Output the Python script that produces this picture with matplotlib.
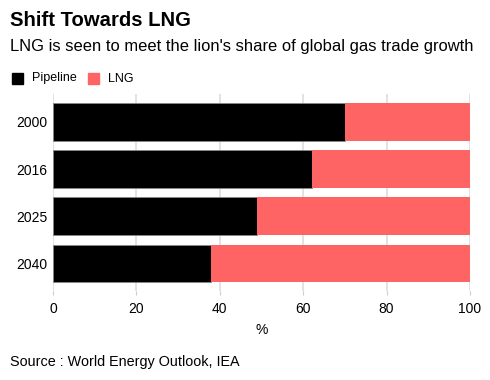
import matplotlib
matplotlib.use("Agg")
import matplotlib.pyplot as plt
from matplotlib.patches import Rectangle

plt.rcParams['font.family'] = ['Liberation Sans', 'DejaVu Sans']

years = ["2000", "2016", "2025", "2040"]
pipeline = [70, 62, 49, 38]
lng = [30, 38, 51, 62]
series_names = ["Pipeline", "LNG"]
colors = ["#000000", "#ff6464"]
xticks = [0, 20, 40, 60, 80, 100]

fig = plt.figure(figsize=(4.9, 3.8), dpi=100)
ax = fig.add_axes([53/490, 1-291/380, 417/490, 197/380])

ypos = list(range(len(years)))
ax.barh(ypos, pipeline, height=0.8, color=colors[0], edgecolor="#888888", linewidth=0.6, zorder=3)
ax.barh(ypos, lng, left=pipeline, height=0.8, color=colors[1], linewidth=0, zorder=3)

ax.set_xlim(0, 100)
ax.set_ylim(3.58, -0.59)
ax.set_yticks(ypos)
ax.set_yticklabels(years, fontsize=10)
ax.set_xticks(xticks)
ax.set_xticklabels([str(t) for t in xticks], fontsize=10)
ax.tick_params(axis='y', length=0, pad=4)
ax.tick_params(axis='x', length=3, color="#cccccc", pad=5)
ax.grid(axis='x', color="#dddddd", linewidth=1.2, zorder=0)
for s in ax.spines.values():
    s.set_visible(False)
ax.set_xlabel("%", fontsize=10, labelpad=5)

fig.text(10/490, 1-20/380, "Shift Towards LNG", fontsize=14.6, fontweight='bold', va='center')
fig.text(10/490, 1-47/380, "LNG is seen to meet the lion's share of global gas trade growth", fontsize=11.9, va='center')

# legend
for i, (name, c) in enumerate(zip(series_names, colors)):
    x0 = [12, 88][i]
    fig.patches.append(Rectangle((x0/490, 1-84/380), 11/490, 11/380, color=c, transform=fig.transFigure, figure=fig))
    fig.text((x0+20)/490, 1-78.5/380, name, fontsize=9, va='center')

fig.text(10/490, 1-362/380, "Source : World Energy Outlook, IEA", fontsize=10.4, va='center')

fig.savefig("out.png", dpi=100)
